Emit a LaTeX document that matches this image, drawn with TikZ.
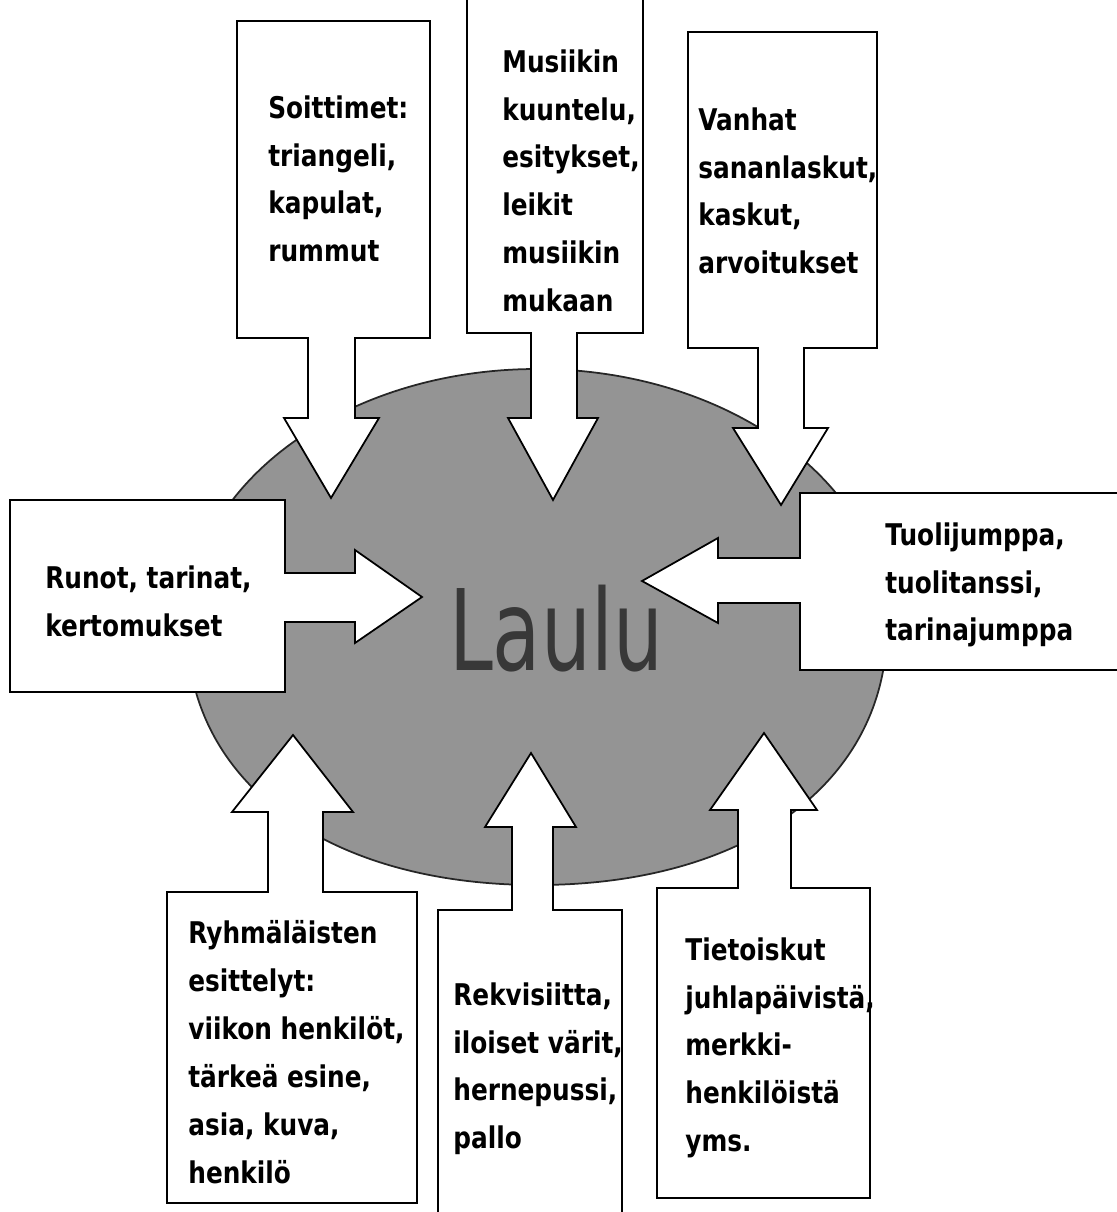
\documentclass[tikz,border=0pt]{standalone}
\usepackage{fontspec}
\newfontfamily\boxfont{DejaVu Sans}[FakeStretch=0.83]
\newfontfamily\laulufont{DejaVu Sans}[FakeStretch=0.7]
\usepackage{tikz}

\begin{document}
\begin{tikzpicture}[x=0.02cm, y=-0.02cm,
    callout/.style={draw=black, fill=white, line width=1pt, line join=miter},
    blob/.style={draw=black!85, fill=black!42, line width=1pt},
    boxtext/.style={anchor=north west, inner sep=0pt, align=left,
        font=\boxfont\bfseries\fontsize{17pt}{27.3pt}\selectfont},
    title/.style={anchor=base, inner sep=0pt, text=black!78,
        font=\laulufont\fontsize{64pt}{70pt}\selectfont}]
    \useasboundingbox (0,0) rectangle (1116,1212);
    \draw[blob] (187,627) .. controls (187,485) and (344,369) .. (537,369)
        .. controls (730,369) and (887,485) .. (887,627)
        .. controls (887,782) and (747,885) .. (537,885)
        .. controls (327,885) and (187,782) .. (187,627) -- cycle;
    \node[title] (laulu) at (556,670) {Laulu};
    % top
    \draw[callout] (237,21) -- (430,21) -- (430,338) -- (355,338) -- (355,418) -- (379,418)
        -- (331,498) -- (284,418) -- (308,418) -- (308,338) -- (237,338) -- cycle;
    \draw[callout] (467,-20) -- (643,-20) -- (643,333) -- (577,333) -- (577,418) -- (598,418)
        -- (553,500) -- (508,418) -- (531,418) -- (531,333) -- (467,333) -- cycle;
    \draw[callout] (688,32) -- (877,32) -- (877,348) -- (804,348) -- (804,428) -- (828,428)
        -- (781,505) -- (733,428) -- (758,428) -- (758,348) -- (688,348) -- cycle;
    % sides
    \draw[callout] (10,500) -- (285,500) -- (285,573) -- (355,573) -- (355,550) -- (422,597)
        -- (355,643) -- (355,622) -- (285,622) -- (285,692) -- (10,692) -- cycle;
    \draw[callout] (1140,493) -- (800,493) -- (800,558) -- (718,558) -- (718,538) -- (642,581)
        -- (718,623) -- (718,603) -- (800,603) -- (800,670) -- (1140,670) -- cycle;
    % bottom
    \draw[callout] (167,1203) -- (417,1203) -- (417,892) -- (323,892) -- (323,812) -- (353,812)
        -- (293,735) -- (232,812) -- (268,812) -- (268,892) -- (167,892) -- cycle;
    \draw[callout] (438,1240) -- (438,910) -- (512,910) -- (512,827) -- (485,827) -- (531,753)
        -- (576,827) -- (553,827) -- (553,910) -- (622,910) -- (622,1240) -- cycle;
    \draw[callout] (657,1198) -- (870,1198) -- (870,888) -- (791,888) -- (791,810) -- (817,810)
        -- (764,733) -- (710,810) -- (738,810) -- (738,888) -- (657,888) -- cycle;

    \node[boxtext] (soittimet) at (268,95) {Soittimet:\\triangeli,\\kapulat,\\rummut};
    \node[boxtext] (musiikki) at (502,49) {Musiikin\\kuuntelu,\\esitykset,\\leikit\\musiikin\\mukaan};
    \node[boxtext] (vanhat) at (698,107) {Vanhat\\sananlaskut,\\kaskut,\\arvoitukset};
    \node[boxtext] (runot) at (45,565) {Runot, tarinat,\\kertomukset};
    \node[boxtext] (tuoli) at (885,522) {Tuolijumppa,\\tuolitanssi,\\tarinajumppa};
    \node[boxtext] (ryhma) at (188,920) {Ryhmäläisten\\esittelyt:\\viikon henkilöt,\\tärkeä esine,\\asia, kuva,\\henkilö};
    \node[boxtext] (rekvisiitta) at (453,982) {Rekvisiitta,\\iloiset värit,\\hernepussi,\\pallo};
    \node[boxtext] (tieto) at (685,937) {Tietoiskut\\juhlapäivistä,\\merkki-\\henkilöistä\\yms.};
\end{tikzpicture}
\end{document}
